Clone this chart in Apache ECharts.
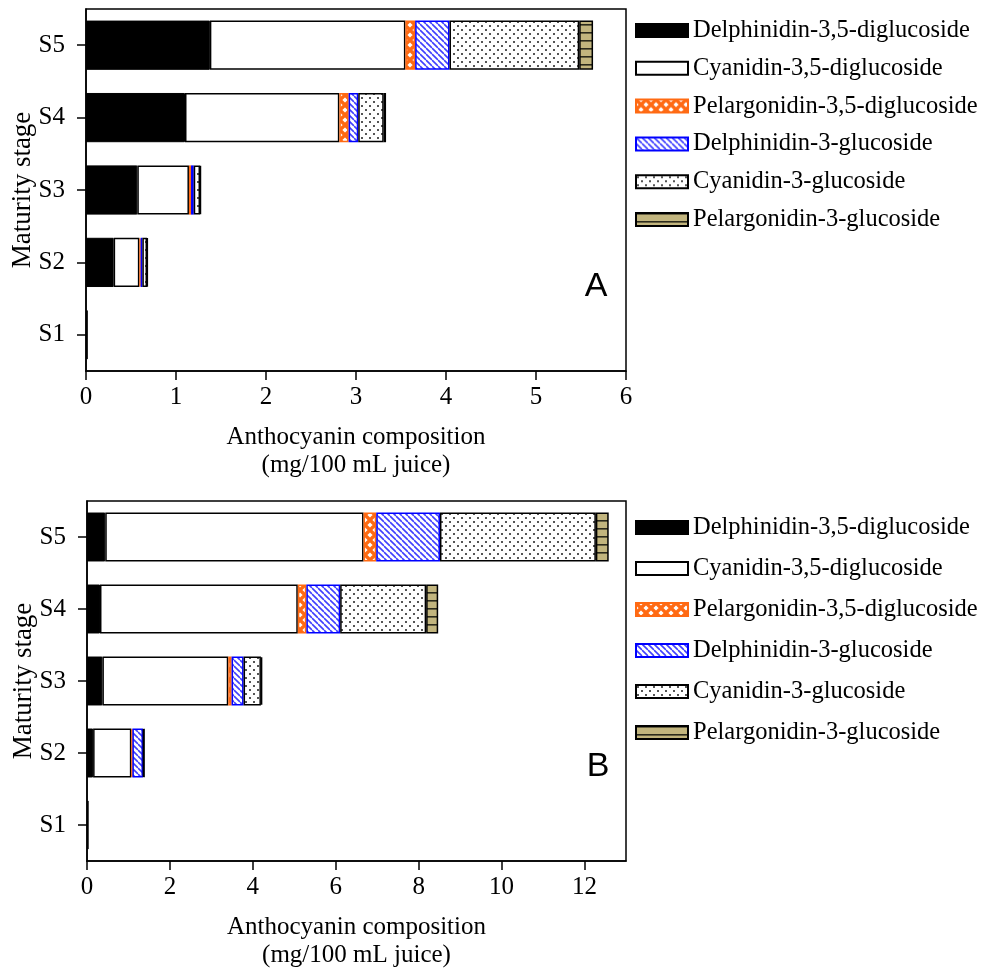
<!DOCTYPE html>
<html>
<head>
<meta charset="utf-8">
<script src="https://cdn.jsdelivr.net/npm/echarts@6/dist/echarts.min.js"></script>
<style>
  html, body { margin: 0; padding: 0; background: #fff; }
  #chart { width: 983px; height: 971px; }
</style>
</head>
<body>
<div id="chart"></div>
<script>
// Maturity stages (bottom to top) and anthocyanin names
const stages = ['S1', 'S2', 'S3', 'S4', 'S5'];
const compounds = [
  'Delphinidin-3,5-diglucoside',
  'Cyanidin-3,5-diglucoside',
  'Pelargonidin-3,5-diglucoside',
  'Delphinidin-3-glucoside',
  'Cyanidin-3-glucoside',
  'Pelargonidin-3-glucoside'
];

// Panel A, mg/100 mL juice
const aDp35 = [0.02, 0.307, 0.57, 1.10, 1.376];
const aCy35 = [null, 0.286, 0.574, 1.715, 2.173];
const aPg35 = [null, 0.014, 0.023, 0.103, 0.108];
const aDp3  = [null, 0.019, 0.030, 0.107, 0.382];
const aCy3  = [null, 0.052, 0.070, 0.283, 1.441];
const aPg3  = [null, 0.007, 0.010, 0.026, 0.154];

// Panel B, mg/100 mL juice
const bDp35 = [0.04, 0.147, 0.371, 0.313, 0.44];
const bCy35 = [null, 0.923, 3.036, 4.771, 6.23];
const bPg35 = [null, 0.024, 0.080, 0.206, 0.306];
const bDp3  = [null, 0.256, 0.289, 0.816, 1.537];
const bCy3  = [null, 0.020, 0.419, 2.074, 3.76];
const bPg3  = [null, 0.013, 0.032, 0.290, 0.31];

// Tick labels of the value axes
const ticksA = [0, 1, 2, 3, 4, 5, 6];
const ticksB = [0, 2, 4, 6, 8, 10, 12];

// ---- fill patterns ----
function tile(w, h, draw) {
  const c = document.createElement('canvas');
  c.width = w; c.height = h;
  draw(c.getContext('2d'), w, h);
  return { image: c, repeat: 'repeat' };
}
const orangeFill = tile(10, 10, (g, w, h) => {
  g.fillStyle = '#fff'; g.fillRect(0, 0, w, h);
  g.strokeStyle = '#FF6A13'; g.lineWidth = 3.4;
  g.beginPath();
  g.moveTo(0, 0); g.lineTo(w, h);
  g.moveTo(w, 0); g.lineTo(0, h);
  g.stroke();
});
const blueFill = tile(6, 6, (g, w, h) => {
  g.fillStyle = '#fff'; g.fillRect(0, 0, w, h);
  g.strokeStyle = '#4040FF'; g.lineWidth = 1.6;
  g.beginPath();
  for (const k of [-6, 0, 6]) { g.moveTo(0, k); g.lineTo(6, k + 6); }
  g.stroke();
});
const dotFill = tile(8, 8, (g, w, h) => {
  g.fillStyle = '#fff'; g.fillRect(0, 0, w, h);
  g.fillStyle = '#555';
  g.fillRect(1, 1, 2, 2);
  g.fillRect(5, 5, 2, 2);
});
const oliveFill = tile(8, 8, (g, w, h) => {
  g.fillStyle = '#C2B57E'; g.fillRect(0, 0, w, h);
  g.fillStyle = '#2b2a1c'; g.fillRect(0, 0, w, 1.6);
});

const styles = [
  { color: '#000', borderColor: '#000', borderWidth: 1 },
  { color: '#fff', borderColor: '#000', borderWidth: 1.5 },
  { color: orangeFill, borderColor: '#FF6A13', borderWidth: 1.5 },
  { color: blueFill, borderColor: '#0000FF', borderWidth: 1.5 },
  { color: dotFill, borderColor: '#000', borderWidth: 1.5 },
  { color: oliveFill, borderColor: '#000', borderWidth: 1.5 }
];

const panelA = [aDp35, aCy35, aPg35, aDp3, aCy3, aPg3];
const panelB = [bDp35, bCy35, bPg35, bDp3, bCy3, bPg3];

function barSeries(values, idx) {
  return values.map((data, i) => ({
    name: compounds[i],
    type: 'bar',
    stack: 'total' + idx,
    xAxisIndex: idx,
    yAxisIndex: idx,
    data: data,
    barWidth: '68%',
    itemStyle: styles[i],
    emphasis: { disabled: true }
  }));
}

const serif = '"Liberation Serif", "Times New Roman", serif';
const axisLineStyle = { color: '#000', width: 1.5 };

function valueAxis(idx, max, interval, ticks) {
  return {
    type: 'value',
    gridIndex: idx,
    min: 0,
    max: max,
    interval: interval,
    axisLine: { show: true, lineStyle: axisLineStyle },
    axisTick: { show: true, length: 9, lineStyle: axisLineStyle, customValues: ticks },
    axisLabel: { fontFamily: serif, fontSize: 25, color: '#000', margin: 14, customValues: ticks },
    splitLine: { show: false },
    name: 'Anthocyanin composition\n(mg/100 mL juice)',
    nameLocation: 'middle',
    nameGap: 52,
    nameTextStyle: { fontFamily: serif, fontSize: 25, lineHeight: 28, color: '#000' }
  };
}
function stageAxis(idx) {
  return {
    type: 'category',
    gridIndex: idx,
    data: stages,
    axisLine: { show: true, lineStyle: axisLineStyle },
    axisTick: { show: true, length: 9, alignWithLabel: true, lineStyle: axisLineStyle },
    axisLabel: { fontFamily: serif, fontSize: 25, color: '#000', margin: 21 },
    name: 'Maturity stage',
    nameLocation: 'middle',
    nameGap: 50,
    nameRotate: 90,
    nameMoveOverlap: false,
    nameTextStyle: { fontFamily: serif, fontSize: 27, color: '#000' }
  };
}
function legendAt(top, gap) {
  return {
    orient: 'vertical',
    left: 630,
    top: top,
    itemWidth: 52,
    itemHeight: 13,
    itemGap: gap,
    icon: 'rect',
    selectedMode: false,
    data: compounds,
    textStyle: { fontFamily: serif, fontSize: 24.5, color: '#000', lineHeight: 24 }
  };
}

const chart = echarts.init(document.getElementById('chart'), null, { renderer: 'canvas' });
chart.setOption({
  animation: false,
  backgroundColor: '#fff',
  grid: [
    { left: 86, top: 9, width: 540, height: 362, show: true, borderColor: '#000', borderWidth: 1.5, outerBoundsMode: 'none' },
    { left: 87, top: 501, width: 539, height: 360, show: true, borderColor: '#000', borderWidth: 1.5, outerBoundsMode: 'none' }
  ],
  xAxis: [valueAxis(0, 6, 1, ticksA), valueAxis(1, 13, 2, ticksB)],
  yAxis: [stageAxis(0), stageAxis(1)],
  legend: [legendAt(13, 12.8), legendAt(510, 16)],
  graphic: [
    { type: 'text', x: 596, y: 287, style: { text: 'A', font: '34px "Liberation Sans"', fill: '#000', align: 'center', verticalAlign: 'middle' } },
    { type: 'text', x: 598, y: 767, style: { text: 'B', font: '34px "Liberation Sans"', fill: '#000', align: 'center', verticalAlign: 'middle' } }
  ],
  series: barSeries(panelA, 0).concat(barSeries(panelB, 1))
});
</script>
</body>
</html>
